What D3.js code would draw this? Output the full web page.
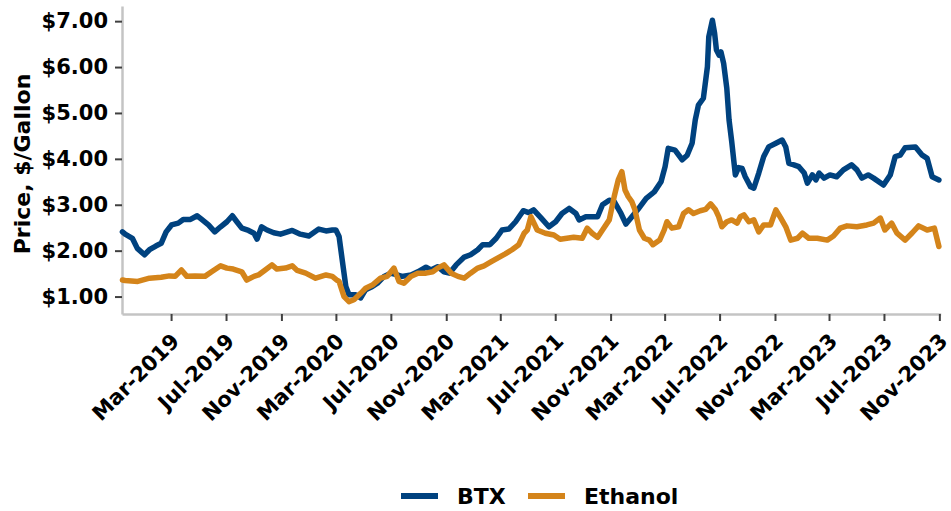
<!DOCTYPE html>
<html><head><meta charset="utf-8">
<script src="https://cdn.jsdelivr.net/npm/d3@7"></script>
<style>
body{margin:0;background:#fff}
svg{display:block}
text{font-family:"DejaVu Sans",sans-serif;font-weight:bold;fill:#000}
</style></head>
<body><svg id="c" width="951" height="511"></svg>
<script>
const seriesNames = ["BTX", "Ethanol"];
const seriesColors = ["#00427f", "#d4841a"];
const yTicks = [1, 2, 3, 4, 5, 6, 7];
const xTicks = ["2019-03-01","2019-07-01","2019-11-01","2020-03-01","2020-07-01","2020-11-01","2021-03-01","2021-07-01","2021-11-01","2022-03-01","2022-07-01","2022-11-01","2023-03-01","2023-07-01","2023-11-01"];

const btxDates = ["2018-11-13","2018-11-19","2018-12-05","2018-12-16","2019-01-01","2019-01-12","2019-01-26","2019-02-07","2019-02-18","2019-03-02","2019-03-17","2019-03-28","2019-04-13","2019-04-28","2019-05-08","2019-05-23","2019-06-06","2019-06-19","2019-07-03","2019-07-15","2019-07-25","2019-08-05","2019-08-20","2019-09-01","2019-09-08","2019-09-18","2019-09-30","2019-10-15","2019-10-30","2019-11-25","2019-12-13","2020-01-01","2020-01-23","2020-02-08","2020-02-22","2020-03-01","2020-03-08","2020-03-15","2020-03-23","2020-03-30","2020-04-14","2020-04-25","2020-05-06","2020-05-21","2020-06-01","2020-06-16","2020-07-01","2020-07-15","2020-07-26","2020-08-15","2020-08-30","2020-09-17","2020-09-28","2020-10-13","2020-10-27","2020-11-08","2020-11-23","2020-12-11","2020-12-25","2021-01-10","2021-01-21","2021-02-06","2021-02-20","2021-03-05","2021-03-20","2021-04-04","2021-04-21","2021-05-03","2021-05-14","2021-05-30","2021-06-17","2021-07-02","2021-07-16","2021-08-01","2021-08-16","2021-08-23","2021-09-07","2021-10-03","2021-10-14","2021-10-29","2021-11-09","2021-11-24","2021-12-05","2021-12-16","2021-12-31","2022-01-19","2022-02-06","2022-02-21","2022-03-02","2022-03-09","2022-03-24","2022-04-09","2022-04-20","2022-05-01","2022-05-08","2022-05-15","2022-05-26","2022-06-04","2022-06-07","2022-06-15","2022-06-20","2022-06-24","2022-06-30","2022-07-04","2022-07-10","2022-07-17","2022-07-22","2022-07-28","2022-08-05","2022-08-12","2022-08-20","2022-08-27","2022-09-08","2022-09-15","2022-09-26","2022-10-07","2022-10-18","2022-11-03","2022-11-17","2022-11-25","2022-12-02","2022-12-13","2022-12-24","2023-01-05","2023-01-12","2023-01-23","2023-01-31","2023-02-07","2023-02-18","2023-03-03","2023-03-18","2023-04-02","2023-04-20","2023-05-02","2023-05-13","2023-05-27","2023-06-08","2023-06-30","2023-07-15","2023-07-26","2023-08-06","2023-08-17","2023-09-09","2023-09-24","2023-10-05","2023-10-16","2023-10-31"];
const btxValues = [2.41,2.36,2.27,2.05,1.91,2.02,2.10,2.16,2.41,2.56,2.60,2.68,2.68,2.76,2.68,2.56,2.41,2.52,2.63,2.76,2.63,2.49,2.44,2.38,2.25,2.52,2.45,2.39,2.36,2.44,2.36,2.32,2.47,2.43,2.45,2.45,2.31,1.80,1.22,1.04,1.04,0.97,1.15,1.22,1.29,1.44,1.51,1.47,1.44,1.47,1.54,1.64,1.58,1.65,1.54,1.51,1.69,1.86,1.91,2.02,2.13,2.13,2.27,2.45,2.47,2.63,2.87,2.83,2.89,2.72,2.52,2.63,2.81,2.92,2.81,2.67,2.74,2.74,3.00,3.10,3.07,2.81,2.58,2.71,2.89,3.14,3.28,3.50,3.83,4.23,4.19,3.98,4.08,4.34,4.85,5.17,5.32,6.01,6.66,7.02,6.73,6.37,6.26,6.33,6.08,5.54,4.85,4.37,3.65,3.81,3.79,3.61,3.39,3.36,3.69,4.05,4.26,4.34,4.41,4.26,3.90,3.87,3.83,3.69,3.47,3.65,3.54,3.69,3.58,3.65,3.61,3.76,3.87,3.76,3.58,3.65,3.58,3.43,3.65,4.05,4.08,4.24,4.26,4.08,4.01,3.61,3.54];

const ethDates = ["2018-11-13","2018-11-19","2018-12-17","2019-01-12","2019-02-07","2019-02-25","2019-03-10","2019-03-24","2019-04-05","2019-04-23","2019-05-15","2019-05-30","2019-06-19","2019-07-03","2019-07-17","2019-08-05","2019-08-16","2019-09-01","2019-09-11","2019-09-26","2019-10-11","2019-10-22","2019-11-10","2019-11-25","2019-12-06","2019-12-25","2020-01-16","2020-02-08","2020-02-22","2020-03-03","2020-03-08","2020-03-19","2020-03-30","2020-04-10","2020-04-25","2020-05-06","2020-05-21","2020-06-08","2020-06-23","2020-07-08","2020-07-19","2020-07-30","2020-08-15","2020-08-30","2020-09-17","2020-10-02","2020-10-13","2020-10-27","2020-11-12","2020-11-27","2020-12-11","2020-12-25","2021-01-10","2021-01-24","2021-02-09","2021-02-27","2021-03-12","2021-03-27","2021-04-11","2021-04-23","2021-04-30","2021-05-08","2021-05-22","2021-06-09","2021-06-28","2021-07-12","2021-07-27","2021-08-11","2021-08-30","2021-09-10","2021-09-21","2021-10-03","2021-10-14","2021-10-29","2021-11-09","2021-11-18","2021-11-26","2021-12-03","2021-12-10","2021-12-18","2021-12-25","2022-01-04","2022-01-15","2022-01-26","2022-02-03","2022-02-18","2022-02-28","2022-03-06","2022-03-17","2022-04-01","2022-04-12","2022-04-23","2022-05-04","2022-05-19","2022-05-31","2022-06-11","2022-06-22","2022-06-29","2022-07-06","2022-07-17","2022-07-28","2022-08-09","2022-08-16","2022-08-24","2022-09-04","2022-09-15","2022-09-26","2022-10-07","2022-10-22","2022-11-03","2022-11-14","2022-11-25","2022-12-06","2022-12-21","2023-01-01","2023-01-15","2023-02-03","2023-02-25","2023-03-11","2023-03-26","2023-04-10","2023-05-02","2023-05-24","2023-06-08","2023-06-23","2023-07-03","2023-07-18","2023-07-30","2023-08-17","2023-09-02","2023-09-16","2023-10-05","2023-10-21","2023-10-31"];
const ethValues = [1.36,1.35,1.33,1.40,1.42,1.45,1.44,1.58,1.44,1.45,1.44,1.54,1.67,1.62,1.60,1.54,1.36,1.44,1.47,1.58,1.69,1.60,1.62,1.67,1.57,1.51,1.40,1.47,1.44,1.36,1.33,1.00,0.89,0.93,1.07,1.18,1.25,1.40,1.44,1.62,1.33,1.29,1.44,1.51,1.51,1.54,1.62,1.69,1.51,1.44,1.40,1.51,1.62,1.67,1.76,1.86,1.93,2.02,2.13,2.38,2.45,2.74,2.45,2.38,2.34,2.25,2.27,2.29,2.27,2.49,2.38,2.29,2.45,2.67,3.18,3.54,3.72,3.32,3.18,3.07,2.89,2.45,2.27,2.23,2.13,2.23,2.45,2.63,2.49,2.52,2.81,2.89,2.81,2.87,2.90,3.02,2.89,2.74,2.52,2.63,2.67,2.60,2.74,2.78,2.63,2.67,2.41,2.56,2.56,2.89,2.71,2.52,2.23,2.27,2.38,2.27,2.27,2.23,2.32,2.49,2.54,2.52,2.56,2.60,2.71,2.45,2.60,2.38,2.23,2.39,2.54,2.45,2.49,2.09];

const parse = d3.timeParse("%Y-%m-%d");
const series = [
  btxDates.map((d, i) => ({date: parse(d), value: btxValues[i]})),
  ethDates.map((d, i) => ({date: parse(d), value: ethValues[i]}))
];

const svg = d3.select("#c");
const x = d3.scaleTime().domain([parse("2018-11-12"), parse("2023-11-04")]).range([122, 940.7]);
const y = d3.scaleLinear().domain([0.62, 7.33]).range([314, 6]);

// Y axis
const yAxis = svg.append("g").attr("transform", "translate(122,0)")
  .call(d3.axisLeft(y).tickValues(yTicks).tickFormat(d3.format("$.2f")).tickSizeInner(7).tickSizeOuter(0).tickPadding(7));
yAxis.select(".domain").attr("stroke", "#c4c4c4").attr("stroke-width", 2.5);
yAxis.selectAll(".tick line").attr("stroke", "#404040").attr("stroke-width", 2);
yAxis.selectAll(".tick text").style("font-size", "21px").attr("fill", "#000");

// X axis
const xAxis = svg.append("g").attr("transform", "translate(0,314)")
  .call(d3.axisBottom(x).tickValues(xTicks.map(parse)).tickFormat(d3.timeFormat("%b-%Y")).tickSizeInner(7).tickSizeOuter(0));
xAxis.select(".domain").attr("stroke", "#c4c4c4").attr("stroke-width", 2.5);
xAxis.selectAll(".tick line").attr("stroke", "#404040").attr("stroke-width", 2);
xAxis.selectAll(".tick text").style("font-size", "21px").attr("fill", "#000")
  .attr("x", 0).attr("y", 0).attr("dy", 0)
  .attr("text-anchor", "end")
  .attr("transform", "translate(9,28.5) rotate(-45)");

// Y title
svg.append("text").attr("transform", "translate(30,164) rotate(-90)")
  .attr("text-anchor", "middle").style("font-size", "22px").text("Price, $/Gallon");

// Lines
const line = d3.line().x(d => x(d.date)).y(d => y(d.value));
series.forEach((s, i) => {
  svg.append("path").datum(s).attr("d", line)
    .attr("fill", "none").attr("stroke", seriesColors[i]).attr("stroke-width", 5.5)
    .attr("stroke-linejoin", "round").attr("stroke-linecap", "round");
});

// Legend
const legendX = [401, 528];
const lg = svg.append("g");
seriesNames.forEach((n, i) => {
  lg.append("line").attr("x1", legendX[i]).attr("x2", legendX[i] + 37).attr("y1", 496).attr("y2", 496)
    .attr("stroke", seriesColors[i]).attr("stroke-width", 6);
  lg.append("text").attr("x", legendX[i] + 56).attr("y", 504).style("font-size", "22px").text(n);
});
</script></body></html>
